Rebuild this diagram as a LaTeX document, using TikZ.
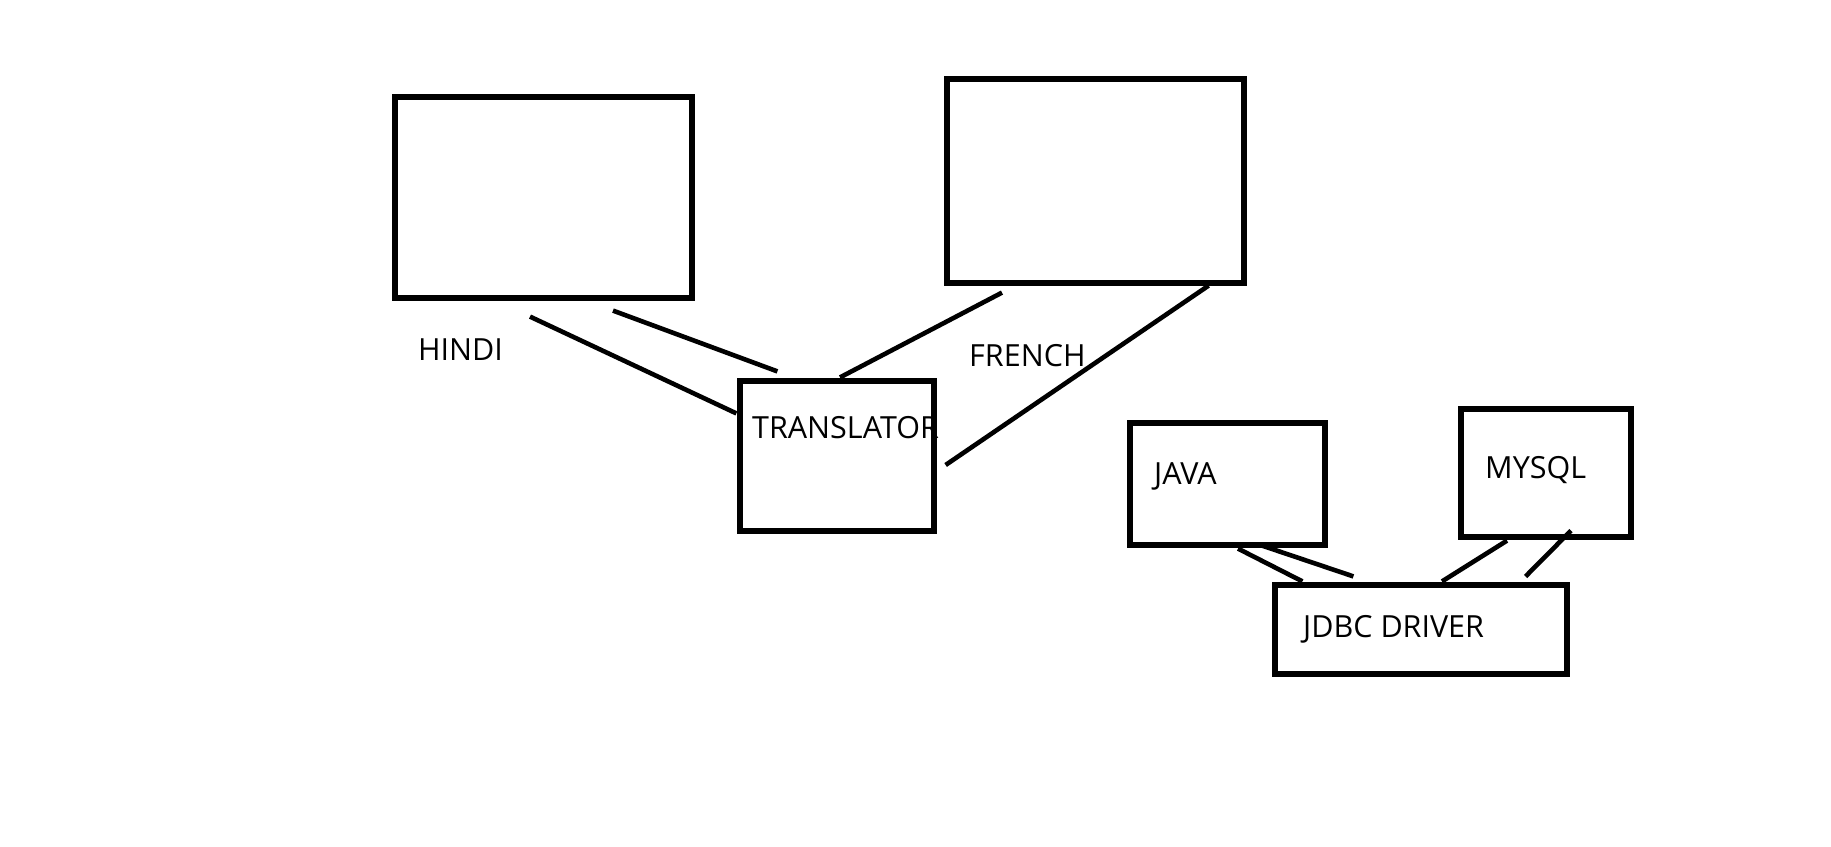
\documentclass[tikz,border=0pt]{standalone}
\usepackage{fontspec}
\setmainfont{Open Sans}
\begin{document}
\begin{tikzpicture}[x=1pt,y=-1pt,
    box/.style={draw,line width=5.2pt,inner sep=0pt},
    link/.style={line width=4.6pt},
    lbl/.style={anchor=west,inner sep=0pt,font=\fontsize{30.5}{36}\selectfont}]
    \useasboundingbox (0,0) rectangle (1831,846);

    % Cajas
    \node[box,minimum width=297,minimum height=201] (hindi) at (543.5,197.5) {};
    \node[box,minimum width=297,minimum height=204] (french) at (1095.5,181) {};
    \node[box,minimum width=194,minimum height=150] (translator) at (837,456) {};
    \node[box,minimum width=195,minimum height=122] (java) at (1227.5,484) {};
    \node[box,minimum width=170,minimum height=128] (mysql) at (1546,473) {};
    \node[box,minimum width=292,minimum height=89] (jdbc) at (1421,629.5) {};

    % Textos
    \node[lbl] (hinditext) at (418,350) {HINDI};
    \node[lbl] (frenchtext) at (969,356) {FRENCH};
    \node[lbl] (translatortext) at (752,428) {TRANSLATOR};
    \node[lbl] (javatext) at (1154,476) {JAVA};
    \node[lbl] (mysqltext) at (1485,470) {MYSQL};
    \node[lbl] (jdbctext) at (1303,629) {JDBC DRIVER};

    % Conexiones
    \draw[link] ([shift={(-13.5,16)}]hindi.south) -- ([shift={(-1,35)}]translator.north west);
    \draw[link] ([shift={(69.5,10)}]hindi.south) -- ([shift={(40,-7)}]translator.north west);
    \draw[link] ([shift={(-93.5,7)}]french.south) -- ([shift={(3,-1)}]translator.north);
    \draw[link] ([shift={(-38,0)}]french.south east) -- ([shift={(9,9)}]translator.east);
    \draw[link] ([shift={(10.5,1)}]java.south) -- ([shift={(30,-1)}]jdbc.north west);
    \draw[link] ([shift={(34.5,-2)}]java.south) -- ([shift={(81,-6)}]jdbc.north west);
    \draw[link] ([shift={(-39,1)}]mysql.south) -- ([shift={(21,-1)}]jdbc.north);
    \draw[link] ([shift={(25,-9)}]mysql.south) -- ([shift={(-44,-6)}]jdbc.north east);
\end{tikzpicture}
\end{document}
